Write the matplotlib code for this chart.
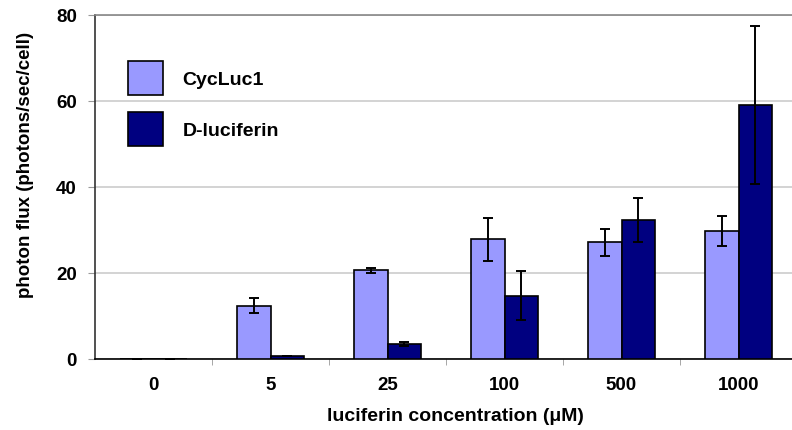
import numpy as np
import matplotlib
matplotlib.use("Agg")
import matplotlib.pyplot as plt

plt.rcParams['font.family'] = ['Liberation Sans', 'DejaVu Sans']
plt.rcParams['font.weight'] = 'bold'

# data
concentrations = ['0', '5', '25', '100', '500', '1000']
cycluc1 = [0.1, 12.4, 20.6, 27.9, 27.1, 29.8]
cycluc1_err = [0.0, 1.7, 0.5, 5.0, 3.1, 3.5]
dluc = [0.1, 0.6, 3.5, 14.7, 32.3, 59.1]
dluc_err = [0.0, 0.0, 0.5, 5.7, 5.2, 18.3]

light = '#9999ff'
dark = '#000080'

fig = plt.figure(figsize=(7.92, 4.31), dpi=100)
ax = fig.add_axes([95/792, 71/431, 702/792, 344/431])

x = np.arange(len(concentrations))
w = 0.29
err_kw = dict(elinewidth=1.4, capsize=3.5, capthick=1.4, ecolor='black')
ax.bar(x - w/2, cycluc1, w, yerr=cycluc1_err, color=light, edgecolor='black',
       linewidth=1.2, label='CycLuc1', error_kw=err_kw, zorder=3)
ax.bar(x + w/2, dluc, w, yerr=dluc_err, color=dark, edgecolor='black',
       linewidth=1.2, label='D-luciferin', error_kw=err_kw, zorder=3)

ax.set_xlim(-0.5, len(concentrations) - 0.5)
ax.set_ylim(0, 80)
ax.set_yticks([0, 20, 40, 60, 80])
ax.yaxis.grid(True, color='#cccccc', linewidth=1.2, zorder=0)
ax.set_axisbelow(True)

ax.set_xticks(x)
ax.set_xticklabels(concentrations)
ax.set_xticks(np.arange(0.5, len(concentrations) - 0.5), minor=True)
ax.tick_params(axis='x', which='major', length=0, pad=12, labelsize=13.5)
ax.tick_params(axis='x', which='minor', length=4, color='#999999')
ax.tick_params(axis='y', length=5, pad=8, labelsize=13.5, color='#999999')

ax.spines['right'].set_visible(False)
ax.spines['top'].set_color('#888888')
ax.spines['top'].set_linewidth(1.2)
ax.spines['left'].set_color('#333333')
ax.spines['left'].set_linewidth(1.2)
ax.spines['bottom'].set_color('black')
ax.spines['bottom'].set_linewidth(1.2)

ax.set_xlabel('luciferin concentration (\u03bcM)', fontsize=14, fontweight='bold')
ax.xaxis.set_label_coords(0.513, -0.14)
ax.set_ylabel('photon flux (photons/sec/cell)', fontsize=13.5, fontweight='bold')
ax.yaxis.set_label_coords(-0.087, 0.567)

ax.legend(loc='upper left', bbox_to_anchor=(0.047, 0.866), frameon=False,
          fontsize=14, handlelength=1.8, handleheight=2.3, labelspacing=0.9,
          handletextpad=1.0, borderpad=0, borderaxespad=0)

plt.savefig('out.png', dpi=100)
